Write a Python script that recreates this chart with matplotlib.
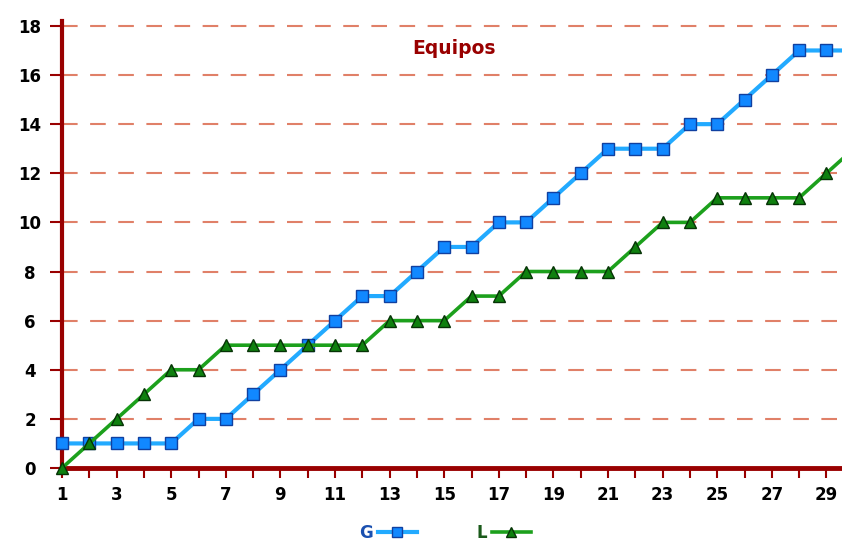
import numpy as np
import matplotlib.pyplot as plt

# Datos
jornada = list(range(1, 31))
g_vals = [1, 1, 1, 1, 1, 2, 2, 3, 4, 5, 6, 7, 7, 8, 9, 9, 10, 10, 11, 12,
          13, 13, 13, 14, 14, 15, 16, 17, 17, 17]
l_vals = [0, 1, 2, 3, 4, 4, 5, 5, 5, 5, 5, 5, 6, 6, 6, 7, 7, 8, 8, 8,
          8, 9, 10, 10, 11, 11, 11, 11, 12, 13]
y_ticks = list(range(0, 19, 2))
x_labels = list(range(1, 30, 2))

rojo = '#990000'

fig = plt.figure(figsize=(8.42, 5.44), dpi=100)
ax = fig.add_axes([62 / 842, 76 / 544, 1 - 62 / 842, (468 - 21) / 544])

# Rejilla horizontal discontinua
for y in y_ticks[1:]:
    ax.axhline(y, color='#e08068', lw=1.5, dashes=(7.5, 6), zorder=1)

ax.plot(jornada, g_vals, color='#22aaff', lw=3, marker='s', ms=8.5,
        mfc='#1188ff', mec='#1040a0', mew=1, zorder=5, label='G', clip_on=False)
ax.plot(jornada, l_vals, color='#1ca01c', lw=2.6, marker='^', ms=9,
        mfc='#0f800f', mec='#063306', mew=1, zorder=6, label='L', clip_on=False)

ax.set_xlim(1, 29.57)
ax.set_ylim(0, 18.2)

ax.set_yticks(y_ticks)
ax.set_xticks(jornada[:29])
ax.set_xticklabels([str(j) if j in x_labels else '' for j in jornada[:29]])

for s in ['top', 'right']:
    ax.spines[s].set_visible(False)
ax.spines['left'].set_color(rojo)
ax.spines['left'].set_linewidth(3)
ax.spines['bottom'].set_color(rojo)
ax.spines['bottom'].set_linewidth(3.5)

ax.tick_params(axis='y', colors=rojo, length=9, width=1.5, pad=14,
               labelcolor='black', labelsize=12)
ax.tick_params(axis='x', colors=rojo, length=7, width=1.5, pad=6,
               labelcolor='black', labelsize=12)
for t in ax.get_yticklabels():
    t.set_fontweight('bold')
    t.set_ha('center')
for t in ax.get_xticklabels():
    t.set_fontweight('bold')

fig.text(454 / 842, 1 - 48 / 544, 'Equipos', color=rojo, fontsize=13.5,
         fontweight='bold', ha='center', va='center')

leg = fig.legend(loc='center', bbox_to_anchor=(445 / 842, 1 - 533 / 544),
                 ncol=2, frameon=False, markerfirst=False, handlelength=2.3,
                 handletextpad=0.3, columnspacing=3.6, markerscale=0.8,
                 prop={'weight': 'bold', 'size': 12})
for txt, c in zip(leg.get_texts(), ['#1a50b0', '#1a5a1a']):
    txt.set_color(c)

fig.savefig('out.png', dpi=100)
